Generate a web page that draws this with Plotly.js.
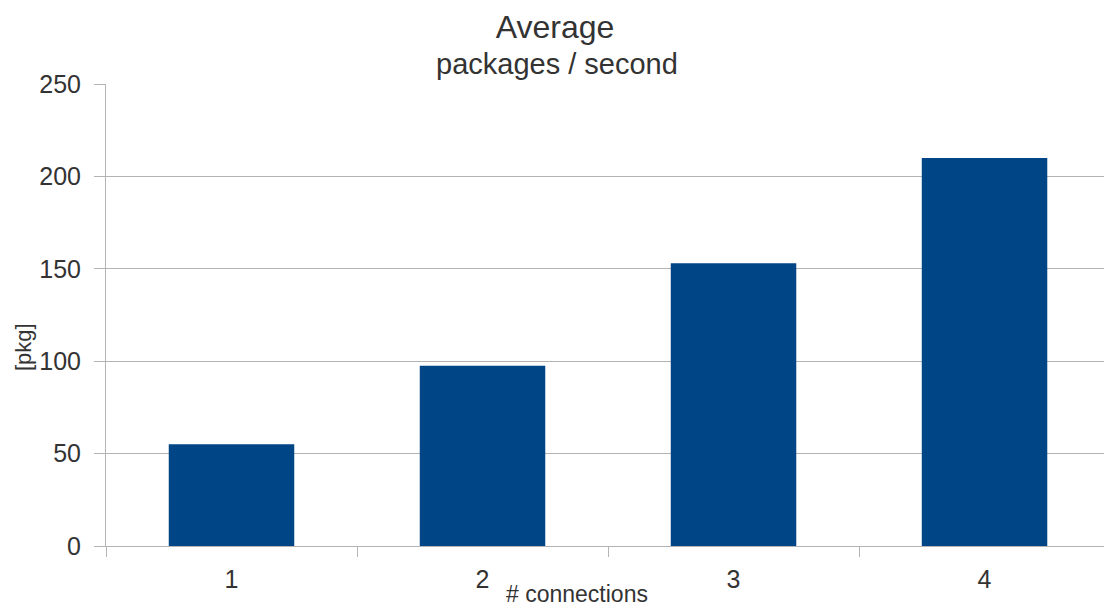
<!DOCTYPE html>
<html>
<head>
<meta charset="utf-8">
<script src="https://cdn.plot.ly/plotly-3.0.1.min.js"></script>
<style>html,body{margin:0;padding:0;background:#fff;overflow:hidden}</style>
</head>
<body>
<div id="chart" style="width:1104px;height:609px"></div>
<script>
const categories = ["1", "2", "3", "4"];
const values = [55, 97.5, 153, 210];
const yTicks = [0, 50, 100, 150, 200, 250];
const titleMain = "Average";
const titleSub = "packages / second";
const xTitle = "# connections";
const yTitle = "[pkg]";

const font = "Liberation Sans, Arial, sans-serif";
const textColor = "#333333";
const gridColor = "#b3b3b3";
const H = 609;

Plotly.newPlot("chart", [{
  type: "bar",
  x: categories,
  y: values,
  marker: {color: "#004586", line: {width: 0}},
  hoverinfo: "none"
}], {
  width: 1104, height: H,
  margin: {l: 106, r: 0, t: 84, b: 63, pad: 0},
  paper_bgcolor: "#ffffff", plot_bgcolor: "#ffffff",
  font: {family: font, color: textColor},
  bargap: 0.5,
  showlegend: false,
  title: {
    text: titleMain,
    xref: "paper", x: (555 - 106) / 998, xanchor: "center",
    yref: "container", y: 1 - 27 / H, yanchor: "middle",
    font: {family: font, color: textColor, size: 32}
  },
  xaxis: {
    type: "category",
    range: [-0.5, 3.476],
    tickson: "boundaries",
    ticks: "outside", ticklen: 10, tickwidth: 1, tickcolor: gridColor,
    showgrid: false,
    showline: true, linecolor: gridColor, linewidth: 1,
    tickfont: {family: font, size: 25, color: textColor},
    ticklabelstandoff: 11,
    fixedrange: true
  },
  yaxis: {
    range: [0, 250],
    tickvals: yTicks,
    ticks: "outside", ticklen: 11, tickwidth: 1, tickcolor: gridColor,
    showgrid: true, gridcolor: gridColor, gridwidth: 1,
    zeroline: false,
    showline: true, linecolor: gridColor, linewidth: 1,
    tickfont: {family: font, size: 25, color: textColor},
    ticklabelstandoff: 8,
    fixedrange: true
  },
  annotations: [
    {text: titleSub, xref: "paper", yref: "paper", x: (557 - 106) / 998, y: 1 + (546 - 64) / 462 - 1,
     xanchor: "center", yanchor: "middle", showarrow: false,
     font: {family: font, size: 29, color: textColor}},
    {text: xTitle, xref: "paper", yref: "paper", x: (577 - 106) / 998, y: -(609 - 546) / 462,
     xanchor: "center", yanchor: "bottom", showarrow: false,
     font: {family: font, size: 23, color: textColor}},
    {text: yTitle, xref: "paper", yref: "paper", x: -(106 - 23) / 998, y: (546 - 347) / 462,
     xanchor: "center", yanchor: "middle", showarrow: false, textangle: -90,
     font: {family: font, size: 22, color: textColor}}
  ]
}, {displayModeBar: false, staticPlot: true});
</script>
</body>
</html>
